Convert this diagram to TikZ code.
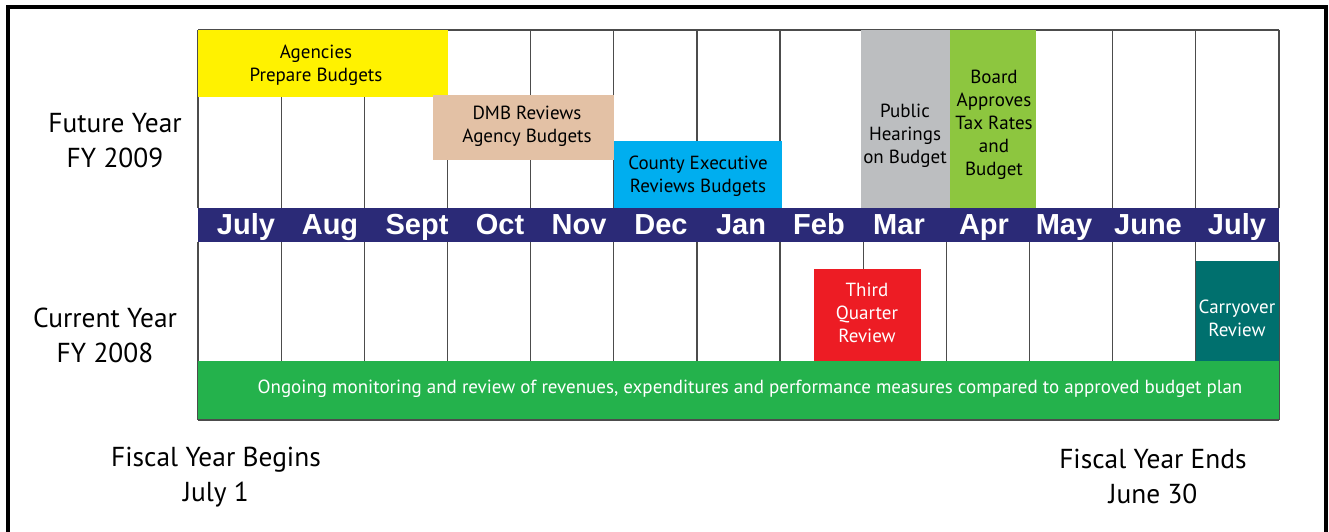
\documentclass[tikz,border=0pt]{standalone}
\usepackage{fontspec}
\setmainfont{PT Sans}
\newfontfamily\monthfont{Liberation Sans}
\definecolor{bandnavy}{RGB}{43,42,119}
\definecolor{prepyellow}{RGB}{255,242,0}
\definecolor{dmbtan}{RGB}{227,193,165}
\definecolor{execblue}{RGB}{0,174,239}
\definecolor{hearinggray}{RGB}{188,190,192}
\definecolor{boardgreen}{RGB}{141,198,63}
\definecolor{quarterred}{RGB}{237,28,36}
\definecolor{carryteal}{RGB}{0,112,110}
\definecolor{monitorgreen}{RGB}{36,178,76}
\tikzset{
  boxtext/.style={align=center, inner sep=0pt, font=\fontsize{9.5}{11.5}\selectfont},
  monthlabel/.style={text=white, inner sep=0pt, anchor=base, font=\monthfont\bfseries\fontsize{14.5}{14.5}\selectfont},
  sidelabel/.style={align=center, inner sep=0pt, font=\fontsize{13.7}{17.5}\selectfont},
  gridline/.style={draw=black!70, line width=0.6pt}
}

\begin{document}
\begin{tikzpicture}[x=0.5pt, y=-0.5pt]
  \useasboundingbox (0,0) rectangle (1329,531);
  % frame
  \draw[line width=1.6pt] (8,540) -- (8,7) -- (1326,7) -- (1326,540);

  % month grid
  \foreach \i in {0,...,13} {
    \draw[gridline] ({198+83.15*\i},30) -- ({198+83.15*\i},208);
    \draw[gridline] ({198+83.15*\i},242) -- ({198+83.15*\i},420);
  }
  \draw[gridline] (198,30) -- (1279,30);
  \draw[gridline] (198,420) -- (1279,420);

  % future year boxes
  \fill[prepyellow] (198,30) rectangle (448,97);
  \fill[dmbtan] (433,95) rectangle (614,160);
  \fill[execblue] (614,141) rectangle (782,208);
  \fill[hearinggray] (861,30) rectangle (950,208);
  \fill[boardgreen] (950,30) rectangle (1036,208);
  \node[boxtext] (prepare) at (316,65) {Agencies\\Prepare Budgets};
  \node[boxtext] (dmb) at (527,126) {DMB Reviews\\Agency Budgets};
  \node[boxtext] (executive) at (698,176) {County Executive\\Reviews Budgets};
  \node[boxtext] (hearings) at (905,135.5) {Public\\Hearings\\on Budget};
  \node[boxtext] (approves) at (994,125) {Board\\Approves\\Tax Rates\\and\\Budget};

  % current year boxes
  \fill[quarterred] (814,269) rectangle (921,361);
  \fill[carryteal] (1196,261) rectangle (1279,361);
  \fill[monitorgreen] (198,361) rectangle (1279,419);
  \node[boxtext, text=white] (quarter) at (867,313) {Third\\Quarter\\Review};
  \node[boxtext, text=white] (carryover) at (1237,318.5) {Carryover\\Review};
  \node[boxtext, text=white] (monitoring) at (750,389) {Ongoing monitoring and review of revenues, expenditures and performance measures compared to approved budget plan};

  % month band
  \fill[bandnavy] (198,208) rectangle (1279,242);
  \foreach \x/\m [count=\i from 0] in {246/July,330/Aug,417/Sept,500/Oct,579/Nov,661/Dec,741/Jan,819/Feb,899/Mar,984/Apr,1064/May,1148/June,1237/July}
    \node[monthlabel] (month\i) at (\x,234) {\m};

  % side labels
  \node[sidelabel] (future) at (115,140.5) {Future Year\\FY 2009};
  \node[sidelabel] (current) at (105,335) {Current Year\\FY 2008};
  \node[sidelabel] (begins) at (216,477) {Fiscal Year Begins\\July 1};
  \node[sidelabel] (ends) at (1153,476) {Fiscal Year Ends\\June 30};
\end{tikzpicture}
\end{document}
